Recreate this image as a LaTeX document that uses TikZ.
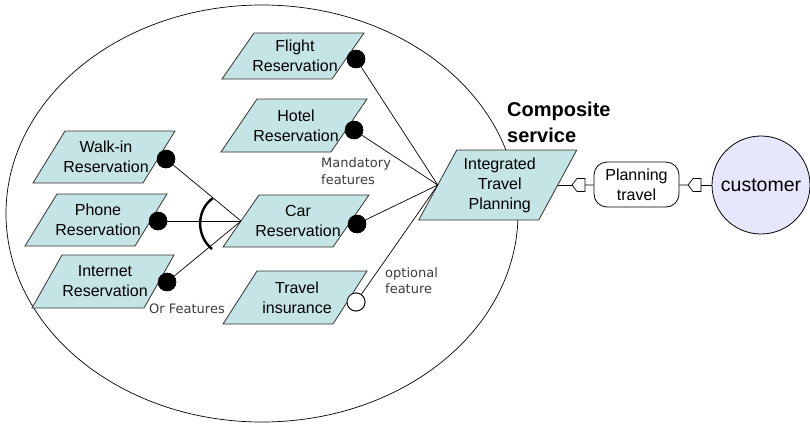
\documentclass[tikz,border=0pt]{standalone}
\usepackage{fontspec}
\setmainfont{Liberation Sans}
\newfontfamily\labelfont{DejaVu Sans}
\definecolor{boxfill}{RGB}{197,228,229}
\definecolor{boxline}{RGB}{50,50,50}
\definecolor{lav}{RGB}{230,230,252}
\definecolor{labgray}{RGB}{60,60,60}
\tikzset{
  pgramstyle/.style={fill=boxfill,draw=boxline,line width=0.8pt},
  boxtext/.style={align=center,inner sep=0pt,font=\fontsize{16}{20}\selectfont},
  conn/.style={draw=black,line width=0.7pt},
  mandot/.style={circle,fill=black,draw=black,minimum size=18pt,inner sep=0pt},
  optdot/.style={circle,fill=white,draw=black,line width=0.8pt,minimum size=18pt,inner sep=0pt},
  lbl/.style={align=left,inner sep=0pt,text=labgray,font=\labelfont\fontsize{13}{16.5}\selectfont},
  portshape/.style={draw=black,fill=white,line width=0.7pt},
}
\newcommand{\pgram}[7]{%
  \coordinate (#1-tl) at ({#2-#4/2+#6/2},{#3-#5/2});
  \coordinate (#1-tr) at ({#2+#4/2+#6/2},{#3-#5/2});
  \coordinate (#1-br) at ({#2+#4/2-#6/2},{#3+#5/2});
  \coordinate (#1-bl) at ({#2-#4/2-#6/2},{#3+#5/2});
  \coordinate (#1-in) at ({#2-#4/2},{#3});
  \coordinate (#1-out) at ({#2+#4/2},{#3});
  \filldraw[pgramstyle] (#1-tl) -- (#1-tr) -- (#1-br) -- (#1-bl) -- cycle;
  \node[boxtext] (#1) at (#2+2,#3) {#7};
}
\begin{document}
\begin{tikzpicture}[x=1pt,y=-1pt]
\useasboundingbox (0,0) rectangle (810,423);
% composite service boundary
\draw[line width=0.7pt] (262,213.5) ellipse [x radius=256, y radius=208.5];

% dots (positions)
\node[mandot] (flightdot) at (356,59) {};
\node[mandot] (hoteldot) at (354,130) {};
\node[mandot] (walkdot) at (166,159) {};
\node[mandot] (phonedot) at (158,221) {};
\node[mandot] (netdot) at (167,282) {};
\node[mandot] (cardot) at (357,224) {};
\node[optdot] (insdot) at (356,302) {};

% boxes
\pgram{flight}{293}{56}{110}{46}{32}{Flight\\Reservation}
\pgram{hotel}{294}{125.5}{110}{53}{36}{Hotel\\Reservation}
\pgram{walk}{104}{157}{110}{52}{32}{Walk-in\\Reservation}
\pgram{phone}{96}{220}{110}{52}{32}{Phone\\Reservation}
\pgram{net}{103}{281.5}{112}{53}{30}{Internet\\Reservation}
\pgram{car}{296}{221}{110}{52}{36}{Car\\Reservation}
\pgram{ins}{295}{297.5}{110}{53}{34}{Travel\\insurance}
\pgram{itp}{497.75}{185}{120}{70}{38}{Integrated\\Travel\\Planning}

% connectors to integrated service
\draw[conn] (flightdot) -- (itp-in);
\draw[conn] (hoteldot) -- (itp-in);
\draw[conn] (cardot) -- (itp-in);
\draw[conn] (insdot) -- (itp-in);
% or-features
\draw[conn] (walkdot) -- (car-in);
\draw[conn] (phonedot) -- (car-in);
\draw[conn] (netdot) -- (car-in);
\draw[line width=2.4pt] (213,198) .. controls (196,210) and (196,236) .. (212,249);

% redraw dots on top
\node[mandot] at (flightdot) {};
\node[mandot] at (hoteldot) {};
\node[mandot] at (walkdot) {};
\node[mandot] at (phonedot) {};
\node[mandot] at (netdot) {};
\node[mandot] at (cardot) {};
\node[optdot] at (insdot) {};

% labels
\node[lbl,anchor=west] (mandlbl) at (321,171) {Mandatory\\features};
\node[lbl] (orlbl) at (187,309) {Or Features};
\node[lbl,anchor=west] (optlbl) at (385,280.5) {optional\\feature};
\node[align=left,inner sep=0pt,anchor=west,font=\bfseries\fontsize{20}{26}\selectfont] (comp) at (507,122) {Composite\\service};

% planning travel and customer
\node[draw=black,line width=0.8pt,rounded corners=13pt,minimum width=85pt,minimum height=45pt,inner sep=0pt,align=center,font=\fontsize{16}{20}\selectfont] (plan) at (636.5,184.5) {Planning\\travel};
\node[circle,draw=black,line width=0.8pt,fill=lav,minimum size=98pt,inner sep=0pt,font=\fontsize{19.5}{22}\selectfont] (cust) at (761,185) {customer};

% ports
\coordinate (p1) at (572,185);
\coordinate (p1r) at (585,185);
\coordinate (p2) at (688,185);
\coordinate (p2r) at (701,185);
\draw[conn] (itp-out) -- (p1);
\draw[portshape] (p1) -- ++(5,-6.5) -- ++(8,0) -- ++(0,13) -- ++(-8,0) -- cycle;
\draw[conn] (p1r) -- (plan);
\draw[conn] (plan) -- (p2);
\draw[portshape] (p2) -- ++(5,-6.5) -- ++(8,0) -- ++(0,13) -- ++(-8,0) -- cycle;
\draw[conn] (p2r) -- (cust);
\end{tikzpicture}
\end{document}
